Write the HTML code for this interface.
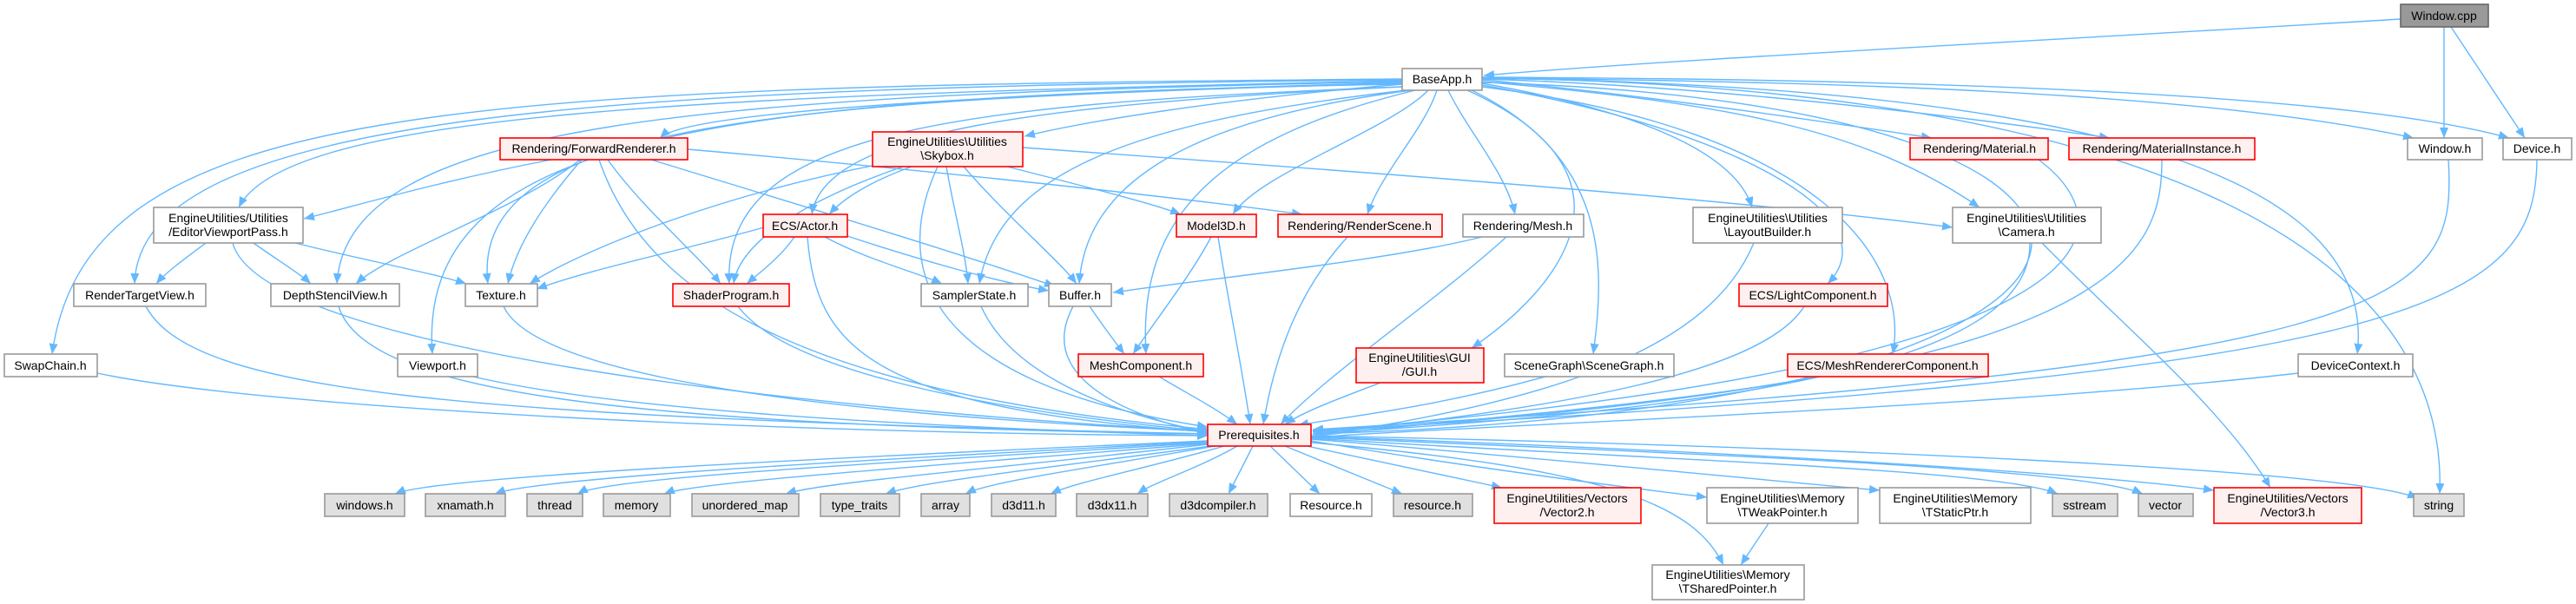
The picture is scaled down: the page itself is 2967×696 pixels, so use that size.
<!DOCTYPE html>
<html><head><meta charset="utf-8"><style>
html,body{margin:0;padding:0;background:#fff;}
svg{display:block}
text{font-family:"Liberation Sans",sans-serif;font-size:14px;fill:#000;text-anchor:middle}
.w{fill:#fff;stroke:#999;stroke-width:1.6}
.r{fill:#fff0f0;stroke:#f00;stroke-width:1.6}
.g{fill:#e0e0e0;stroke:#999;stroke-width:1.6}
.c{fill:#999;stroke:#666;stroke-width:1.6}
.e path{fill:none;stroke:#63b8ff;stroke-width:1.4;marker-end:url(#a)}
</style></head><body>
<svg width="2967" height="696" viewBox="0 0 2967 696" xmlns="http://www.w3.org/2000/svg">
<defs><marker id="a" markerUnits="userSpaceOnUse" markerWidth="12" markerHeight="10" viewBox="0 0 12 10" refX="12" refY="5" orient="auto"><path d="M0,0 L12,5 L0,10 z" fill="#63b8ff"/></marker></defs>
<g class="e">
<path d="M2765 22 C2300 50 1900 70 1709 87"/>
<path d="M2815 31 L2815 159"/>
<path d="M2823 31 L2908 159"/>
<path d="M1615 95 C1100 110 790 130 760 159"/>
<path d="M1615 97 C1400 115 1250 140 1180 157"/>
<path d="M1615 93 C800 110 330 130 275 239"/>
<path d="M1615 92 C700 100 160 130 155 327"/>
<path d="M1615 94 C800 110 400 140 388 327"/>
<path d="M1615 96 C900 115 540 140 562 327"/>
<path d="M1615 100 C1100 120 830 150 840 327"/>
<path d="M1615 100 C1200 120 950 150 935 247"/>
<path d="M1620 104 C1300 140 1150 200 1128 327"/>
<path d="M1625 104 C1350 140 1250 220 1243 327"/>
<path d="M1645 104 C1600 150 1450 200 1420 247"/>
<path d="M1655 104 C1640 150 1590 200 1575 247"/>
<path d="M1668 104 C1690 150 1735 200 1745 247"/>
<path d="M1630 104 C1400 160 1310 250 1320 408"/>
<path d="M1690 104 C1900 200 1800 330 1695 401"/>
<path d="M1695 104 C1850 180 1850 300 1835 408"/>
<path d="M1707 98 C2000 150 2180 250 2105 327"/>
<path d="M1707 100 C2100 150 2200 300 2180 408"/>
<path d="M1707 96 C1900 130 2000 180 2018 239"/>
<path d="M1707 94 C2000 120 2150 150 2280 239"/>
<path d="M1707 92 C1900 110 2100 140 2225 159"/>
<path d="M1707 91 C2000 100 2300 140 2430 159"/>
<path d="M1707 90 C2300 95 2600 120 2780 159"/>
<path d="M1707 89 C2400 92 2750 120 2890 159"/>
<path d="M1707 90 C2400 100 2740 200 2715 408"/>
<path d="M1615 91 C500 100 100 120 60 408"/>
<path d="M1615 97 C800 110 480 160 498 408"/>
<path d="M1707 95 C2600 120 2560 470 1512 500"/>
<path d="M1707 90 C2500 100 2820 300 2810 569"/>
<path d="M635 184 C500 210 400 240 350 252"/>
<path d="M668 184 C600 240 450 290 410 327"/>
<path d="M670 184 C630 230 595 280 585 327"/>
<path d="M700 184 C740 240 800 290 830 327"/>
<path d="M750 184 C900 230 1100 290 1215 330"/>
<path d="M792 172 C1000 190 1300 220 1500 247"/>
<path d="M690 184 C740 330 900 450 1393 495"/>
<path d="M1050 192 C1000 210 970 230 955 247"/>
<path d="M1020 188 C800 230 650 300 610 327"/>
<path d="M1040 192 C900 240 850 290 845 327"/>
<path d="M1090 192 C1100 250 1112 290 1115 327"/>
<path d="M1110 192 C1160 250 1220 300 1240 327"/>
<path d="M1160 192 C1250 215 1330 235 1360 247"/>
<path d="M1178 170 C1600 200 2000 230 2249 262"/>
<path d="M1080 192 C1030 300 1050 440 1391 492"/>
<path d="M237 280 C210 300 190 315 180 327"/>
<path d="M292 280 C320 300 345 315 358 327"/>
<path d="M340 280 C420 300 500 315 537 327"/>
<path d="M268 280 C300 400 900 470 1391 497"/>
<path d="M880 262 C780 290 680 310 618 333"/>
<path d="M915 273 C900 295 880 310 860 327"/>
<path d="M950 273 C1000 300 1060 315 1085 327"/>
<path d="M970 270 C1060 300 1150 325 1208 335"/>
<path d="M930 273 C940 400 1000 470 1393 498"/>
<path d="M1395 273 C1370 320 1330 370 1305 408"/>
<path d="M1403 273 C1415 350 1430 420 1440 489"/>
<path d="M1552 273 C1500 330 1470 400 1455 489"/>
<path d="M1707 273 C1600 300 1400 320 1282 337"/>
<path d="M1735 273 C1650 350 1530 430 1475 489"/>
<path d="M2020 280 C1970 400 1800 460 1512 503"/>
<path d="M2338 280 C2340 420 2000 470 1512 500"/>
<path d="M2352 280 C2450 380 2560 470 2615 562"/>
<path d="M2348 184 C2450 260 2460 420 1512 497"/>
<path d="M2490 184 C2490 300 2440 440 1512 498"/>
<path d="M2820 184 C2830 350 2780 420 1512 495"/>
<path d="M2922 184 C2920 350 2800 430 1512 496"/>
<path d="M2078 353 C2030 430 1800 470 1512 500"/>
<path d="M2095 434 C1900 470 1600 490 1512 503"/>
<path d="M2647 430 C2300 470 1700 490 1512 504"/>
<path d="M1780 434 C1650 470 1550 480 1495 490"/>
<path d="M1590 441 C1540 460 1500 475 1480 489"/>
<path d="M1335 434 C1370 455 1400 470 1425 489"/>
<path d="M1255 353 C1270 375 1285 395 1295 408"/>
<path d="M1236 353 C1200 420 1260 470 1391 500"/>
<path d="M1130 353 C1160 420 1250 470 1391 498"/>
<path d="M850 353 C900 420 1100 470 1391 497"/>
<path d="M580 353 C620 440 1000 480 1391 497"/>
<path d="M390 353 C420 450 700 490 1391 500"/>
<path d="M168 353 C220 450 500 480 1391 500"/>
<path d="M112 430 C300 470 900 500 1391 502"/>
<path d="M545 434 C700 470 1000 490 1391 502"/>
<path d="M1391 508 C900 530 500 550 455 569"/>
<path d="M1391 509 C1000 530 620 550 570 569"/>
<path d="M1391 510 C1000 535 700 550 665 569"/>
<path d="M1391 511 C1100 535 800 555 765 569"/>
<path d="M1391 512 C1150 540 950 555 905 569"/>
<path d="M1395 514 C1200 540 1060 555 1020 569"/>
<path d="M1400 514 C1250 540 1140 555 1112 569"/>
<path d="M1410 514 C1320 540 1240 555 1210 569"/>
<path d="M1425 514 C1380 540 1330 555 1310 569"/>
<path d="M1443 514 L1415 569"/>
<path d="M1463 514 L1520 569"/>
<path d="M1480 514 L1615 569"/>
<path d="M1505 514 L1730 562"/>
<path d="M1510 508 C1700 540 1900 565 1966 573"/>
<path d="M1510 510 C1850 540 1950 580 1985 651"/>
<path d="M1510 506 C1800 530 2050 555 2165 565"/>
<path d="M1510 505 C1900 530 2300 540 2370 569"/>
<path d="M1510 504 C2000 525 2400 540 2468 569"/>
<path d="M1510 503 C2000 520 2400 545 2550 565"/>
<path d="M1510 502 C2100 515 2700 540 2785 574"/>
<path d="M2037 603 L2005 651"/>
</g>
<g>
<rect class="c" x="2765" y="5" width="101" height="26"/><text x="2815" y="23">Window.cpp</text>
<rect class="w" x="1615" y="79" width="92" height="25"/><text x="1661" y="96">BaseApp.h</text>
<rect class="r" x="576" y="159" width="216" height="25"/><text x="684" y="176">Rendering/ForwardRenderer.h</text>
<rect class="r" x="1005" y="152" width="173" height="40"/><text x="1091" y="168">EngineUtilities\Utilities</text><text x="1091" y="184">\Skybox.h</text>
<rect class="r" x="2200" y="159" width="159" height="25"/><text x="2280" y="176">Rendering/Material.h</text>
<rect class="r" x="2383" y="159" width="214" height="25"/><text x="2490" y="176">Rendering/MaterialInstance.h</text>
<rect class="w" x="2773" y="159" width="86" height="25"/><text x="2816" y="176">Window.h</text>
<rect class="w" x="2883" y="159" width="79" height="25"/><text x="2922" y="176">Device.h</text>
<rect class="w" x="177" y="239" width="172" height="41"/><text x="263" y="256">EngineUtilities/Utilities</text><text x="263" y="272">/EditorViewportPass.h</text>
<rect class="r" x="879" y="247" width="97" height="26"/><text x="927" y="265">ECS/Actor.h</text>
<rect class="r" x="1355" y="247" width="92" height="26"/><text x="1401" y="265">Model3D.h</text>
<rect class="r" x="1472" y="247" width="189" height="26"/><text x="1566" y="265">Rendering/RenderScene.h</text>
<rect class="w" x="1685" y="247" width="139" height="26"/><text x="1754" y="265">Rendering/Mesh.h</text>
<rect class="w" x="1950" y="239" width="172" height="41"/><text x="2036" y="256">EngineUtilities\Utilities</text><text x="2036" y="272">\LayoutBuilder.h</text>
<rect class="w" x="2249" y="239" width="171" height="41"/><text x="2334" y="256">EngineUtilities\Utilities</text><text x="2334" y="272">\Camera.h</text>
<rect class="w" x="85" y="327" width="152" height="26"/><text x="161" y="345">RenderTargetView.h</text>
<rect class="w" x="312" y="327" width="148" height="26"/><text x="386" y="345">DepthStencilView.h</text>
<rect class="w" x="536" y="327" width="83" height="26"/><text x="577" y="345">Texture.h</text>
<rect class="r" x="775" y="327" width="134" height="26"/><text x="842" y="345">ShaderProgram.h</text>
<rect class="w" x="1061" y="327" width="123" height="26"/><text x="1122" y="345">SamplerState.h</text>
<rect class="w" x="1208" y="327" width="72" height="26"/><text x="1244" y="345">Buffer.h</text>
<rect class="r" x="2003" y="327" width="171" height="26"/><text x="2088" y="345">ECS/LightComponent.h</text>
<rect class="w" x="5" y="408" width="107" height="26"/><text x="58" y="426">SwapChain.h</text>
<rect class="w" x="458" y="408" width="92" height="26"/><text x="504" y="426">Viewport.h</text>
<rect class="r" x="1242" y="408" width="144" height="26"/><text x="1314" y="426">MeshComponent.h</text>
<rect class="r" x="1562" y="401" width="147" height="40"/><text x="1635" y="417">EngineUtilities\GUI</text><text x="1635" y="433">/GUI.h</text>
<rect class="w" x="1733" y="408" width="195" height="26"/><text x="1830" y="426">SceneGraph\SceneGraph.h</text>
<rect class="r" x="2059" y="408" width="231" height="26"/><text x="2174" y="426">ECS/MeshRendererComponent.h</text>
<rect class="w" x="2647" y="408" width="132" height="26"/><text x="2713" y="426">DeviceContext.h</text>
<rect class="r" x="1391" y="489" width="119" height="25"/><text x="1450" y="506">Prerequisites.h</text>
<rect class="g" x="374" y="569" width="92" height="26"/><text x="420" y="587">windows.h</text>
<rect class="g" x="490" y="569" width="92" height="26"/><text x="536" y="587">xnamath.h</text>
<rect class="g" x="607" y="569" width="64" height="26"/><text x="639" y="587">thread</text>
<rect class="g" x="695" y="569" width="77" height="26"/><text x="733" y="587">memory</text>
<rect class="g" x="797" y="569" width="123" height="26"/><text x="858" y="587">unordered_map</text>
<rect class="g" x="945" y="569" width="91" height="26"/><text x="990" y="587">type_traits</text>
<rect class="g" x="1061" y="569" width="56" height="26"/><text x="1089" y="587">array</text>
<rect class="g" x="1142" y="569" width="74" height="26"/><text x="1179" y="587">d3d11.h</text>
<rect class="g" x="1240" y="569" width="82" height="26"/><text x="1281" y="587">d3dx11.h</text>
<rect class="g" x="1347" y="569" width="113" height="26"/><text x="1403" y="587">d3dcompiler.h</text>
<rect class="w" x="1486" y="569" width="94" height="26"/><text x="1533" y="587">Resource.h</text>
<rect class="g" x="1605" y="569" width="91" height="26"/><text x="1650" y="587">resource.h</text>
<rect class="r" x="1721" y="562" width="169" height="41"/><text x="1805" y="579">EngineUtilities/Vectors</text><text x="1805" y="595">/Vector2.h</text>
<rect class="w" x="1966" y="562" width="174" height="41"/><text x="2053" y="579">EngineUtilities\Memory</text><text x="2053" y="595">\TWeakPointer.h</text>
<rect class="w" x="2165" y="562" width="174" height="41"/><text x="2252" y="579">EngineUtilities\Memory</text><text x="2252" y="595">\TStaticPtr.h</text>
<rect class="g" x="2364" y="569" width="75" height="26"/><text x="2401" y="587">sstream</text>
<rect class="g" x="2463" y="569" width="63" height="26"/><text x="2494" y="587">vector</text>
<rect class="r" x="2550" y="562" width="170" height="41"/><text x="2635" y="579">EngineUtilities/Vectors</text><text x="2635" y="595">/Vector3.h</text>
<rect class="g" x="2780" y="569" width="58" height="26"/><text x="2809" y="587">string</text>
<rect class="w" x="1903" y="651" width="175" height="40"/><text x="1990" y="667">EngineUtilities\Memory</text><text x="1990" y="683">\TSharedPointer.h</text>
</g>
</svg>
</body></html>
